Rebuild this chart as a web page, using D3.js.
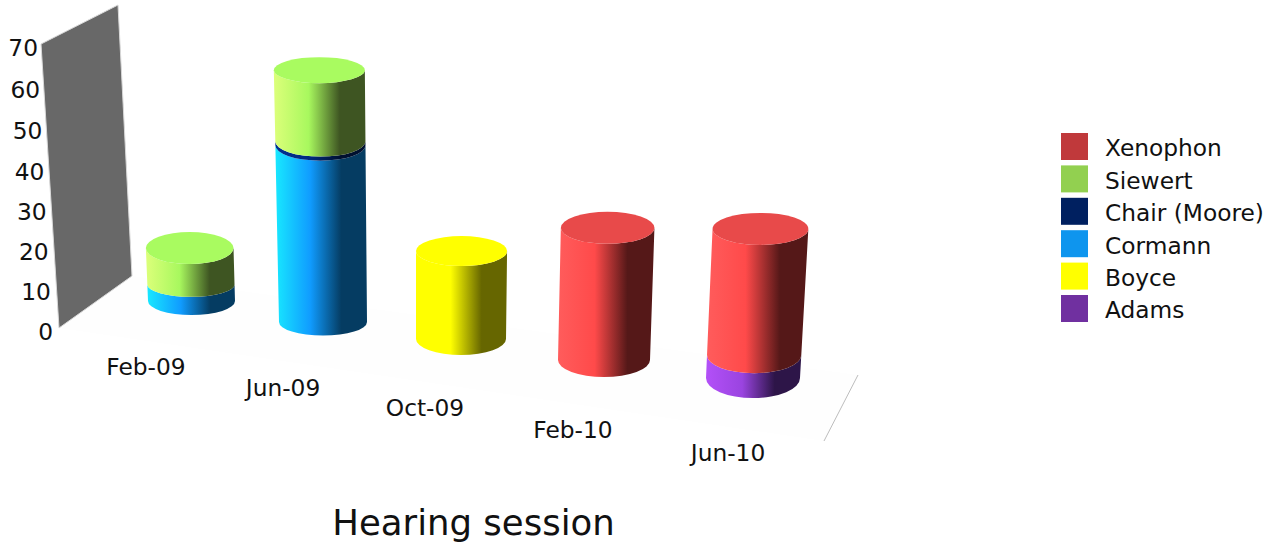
<!DOCTYPE html>
<html>
<head>
<meta charset="utf-8">
<script src="https://cdn.jsdelivr.net/npm/d3@7/dist/d3.min.js"></script>
<style>
html,body{margin:0;padding:0;background:#fff;}
svg{display:block;}
text{font-family:"DejaVu Sans",Verdana,sans-serif;fill:#111;}
</style>
</head>
<body>
<svg id="chart" width="1279" height="546"></svg>
<script>
// Sessions and minutes per hearing participant
const sessions = ["Feb-09","Jun-09","Oct-09","Feb-10","Jun-10"];
const legendOrder = ["Xenophon","Siewert","Chair (Moore)","Cormann","Boyce","Adams"];
const adams    = [0, 0, 0, 0, 5.5];
const boyce    = [0, 0, 21.5, 0, 0];
const cormann  = [4, 43.8, 0, 0, 0];
const chair    = [0, 1, 0, 0, 0];
const siewert  = [9, 17.7, 0, 0, 0];
const xenophon = [0, 0, 0, 32, 30];
const yTicks = [0,10,20,30,40,50,60,70];

// Flat legend colour, then the side-shading ramp and the lit cap
const swatch = {"Xenophon":"#c0393b","Siewert":"#92d050","Chair (Moore)":"#002060","Cormann":"#0e95ee","Boyce":"#ffff00","Adams":"#7030a0"};
const sideRamp = {
  "Xenophon":["#ff5c5c","#ff4a4a","#551818"],
  "Siewert":["#dcff7a","#a8f85e","#3e5522"],
  "Chair (Moore)":["#003090","#002a80","#001030"],
  "Cormann":["#18e8ff","#109cff","#053c62"],
  "Boyce":["#ffff00","#ffff00","#666600"],
  "Adams":["#b350f8","#9a44e0","#2d1548"]
};
const capFill = {"Xenophon":"#e84a4a","Siewert":"#a9fb60","Chair (Moore)":"#002a80","Cormann":"#109cff","Boyce":"#ffff00","Adams":"#9a44e0"};

const svg = d3.select("#chart");
const seriesByName = {"Xenophon":xenophon,"Siewert":siewert,"Chair (Moore)":chair,"Cormann":cormann,"Boyce":boyce,"Adams":adams};
const stackOrder = [...legendOrder].reverse();
const rows = sessions.map((s,i)=>{const r={session:s};stackOrder.forEach(n=>r[n]=seriesByName[n][i]);return r;});
const stacked = d3.stack().keys(stackOrder)(rows);

// Projection of the floor: receding sessions spread out and come towards the viewer
const idx = d3.scaleLinear().domain([0,1,2,3,4]);
const groundX = idx.copy().range([191.5,323,461,604,753]);
const groundY = idx.copy().range([301,322,339,360,378]);
const unitPx  = idx.copy().range([4.07,4.03,4.09,4.13,4.2]);
const baseRx  = idx.copy().range([43.5,44,45,46,47]);
const baseRy  = idx.copy().range([14,13.5,16,17,20]);
const capRy   = idx.copy().range([16,13,15,16,16]);
const ringBow = idx.copy().range([-2.5,2,0,0,-1]);
const LEAN = 0.00015, LEAN_ORIGIN = 420, TAPER = 0.006;

function ring(i, value, total){
  const h = value*unitPx(i), x0 = groundX(i);
  const t = total ? value/total : 0;
  return {
    cx: x0 + (x0-LEAN_ORIGIN)*LEAN*h,
    cy: groundY(i) - h,
    rx: baseRx(i) + h*TAPER,
    ry: baseRy(i) + (capRy(i)-baseRy(i))*t + ((t>0 && t<1) ? ringBow(i) : 0)
  };
}

// Shading ramps shared by every cylinder side
const defs = svg.append("defs");
stackOrder.forEach((n,k)=>{
  const g = defs.append("linearGradient").attr("id","side"+k);
  const c = sideRamp[n];
  [[0,c[0]],[.38,c[1]],[.72,c[2]],[1,c[2]]].forEach(([o,col])=>g.append("stop").attr("offset",o).attr("stop-color",col));
});

// Floor and the two walls
svg.append("polygon").attr("points",[[59,328],[132,276],[858,375],[824,441]].join(" ")).attr("fill","#fefefe");
svg.append("polygon").attr("points",[[41,44],[118,5],[132,276],[59,328]].join(" ")).attr("fill","#686868").attr("stroke","#d8d8d8").attr("stroke-width",1);
svg.append("line").attr("x1",858).attr("y1",375).attr("x2",824).attr("y2",441).attr("stroke","#bdbdbd").attr("stroke-width",1);

// Value labels along the near edge of the wall
const tickY = d3.scaleLinear().domain([0,35,70]).range([332,192,48]);
const tickX = d3.scaleLinear().domain([0,70]).range([53,38]);
svg.append("g").selectAll("text").data(yTicks).join("text")
  .attr("x",d=>tickX(d)).attr("y",d=>tickY(d)).attr("dy","0.36em")
  .attr("text-anchor","end").attr("font-size",23.3).text(d=>d);

// Cylinders, painted from the bottom segment upwards
const bars = svg.append("g");
sessions.forEach((s,i)=>{
  const total = d3.sum(stackOrder,n=>seriesByName[n][i]);
  stacked.forEach((layer,k)=>{
    const [v0,v1] = layer[i];
    if(v1<=v0) return;
    const a = ring(i,v0,total), b = ring(i,v1,total);
    const d = `M${a.cx-a.rx},${a.cy}A${a.rx},${a.ry} 0 0 0 ${a.cx+a.rx},${a.cy}`+
              `L${b.cx+b.rx},${b.cy}A${b.rx},${b.ry} 0 0 1 ${b.cx-b.rx},${b.cy}Z`;
    bars.append("path").attr("d",d).attr("fill",`url(#side${k})`);
  });
  const topLayer = stacked.filter(l=>l[i][1]>l[i][0]).pop();
  const c = ring(i,total,total);
  bars.append("ellipse").attr("cx",c.cx).attr("cy",c.cy).attr("rx",c.rx).attr("ry",c.ry).attr("fill",capFill[topLayer.key]);
});

// Session labels, set out along the front of the floor
const labelX = idx.copy().range([146,283,425,573,728]);
const labelY = idx.copy().range([367,388,408,430,453]);
svg.append("g").selectAll("text").data(sessions).join("text")
  .attr("x",(d,i)=>labelX(i)).attr("y",(d,i)=>labelY(i)).attr("dy","0.36em")
  .attr("text-anchor","middle").attr("font-size",23.3).text(d=>d);

svg.append("text").attr("x",473.5).attr("y",535).attr("text-anchor","middle").attr("font-size",35.5).text("Hearing session");

// Legend
const legendY = d3.scalePoint().domain(legendOrder).range([133,295]);
const legend = svg.append("g").selectAll("g").data(legendOrder).join("g");
legend.append("rect").attr("x",1061).attr("y",d=>legendY(d)).attr("width",27).attr("height",27).attr("fill",d=>swatch[d]);
legend.append("text").attr("x",1105).attr("y",d=>legendY(d)+15).attr("dy","0.36em").attr("font-size",23.3).text(d=>d);
</script>
</body>
</html>
